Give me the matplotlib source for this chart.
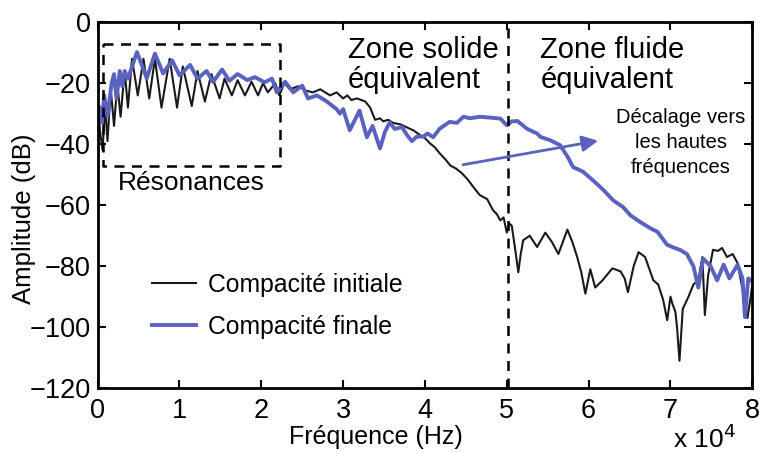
import numpy as np
import matplotlib
matplotlib.use("Agg")
import matplotlib.pyplot as plt

plt.rcParams['font.family'] = ['Liberation Sans', 'DejaVu Sans']

# frequence en 1e4 Hz, amplitude en dB
x_init = [0.00, 0.03, 0.06, 0.09, 0.12, 0.16, 0.20, 0.24, 0.28, 0.33, 0.37, 0.42, 0.49, 0.56, 0.63,
          0.70, 0.78, 0.88, 0.97, 1.04, 1.15, 1.22, 1.31, 1.39, 1.49, 1.55, 1.64, 1.71, 1.80, 1.88,
          1.96, 2.02, 2.08, 2.17, 2.22, 2.28, 2.35, 2.45, 2.55, 2.63, 2.72, 2.84, 2.92, 3.00, 3.05,
          3.10, 3.17, 3.27, 3.33, 3.39, 3.45, 3.49, 3.55, 3.61, 3.70, 3.78, 3.86, 3.94, 4.00, 4.06,
          4.12, 4.18, 4.25, 4.31, 4.38, 4.45, 4.52, 4.59, 4.67, 4.76, 4.83, 4.88, 4.92, 4.96, 5.00,
          5.03, 5.06, 5.10, 5.14, 5.17, 5.20, 5.28, 5.37, 5.47, 5.55, 5.63, 5.74, 5.80, 5.86, 5.91,
          5.96, 6.02, 6.08, 6.17, 6.29, 6.39, 6.44, 6.48, 6.55, 6.61, 6.69, 6.79, 6.85, 6.91, 6.96,
          7.00, 7.02, 7.06, 7.08, 7.11, 7.15, 7.22, 7.28, 7.34, 7.39, 7.42, 7.46, 7.52, 7.58, 7.63,
          7.69, 7.76, 7.82, 7.89, 7.94, 7.98, 8.00]
y_init = [-26, -36, -42, -27, -39, -22, -34, -20, -31, -16, -28, -12, -24, -12, -25,
          -12, -28, -12, -28, -14.5, -27.5, -16, -26, -17, -25, -18.5, -24, -19, -24, -19.5,
          -24, -20, -23, -20, -24, -20, -22, -21, -22.5, -23, -22, -24, -23, -25, -24,
          -25.5, -25, -26, -28, -32, -31.5, -32.5, -32, -33, -33.5, -34.5, -35.5, -37, -38, -39.7,
          -41, -43, -45, -47, -48, -49.5, -51.5, -54, -56.7, -58, -61.6, -63, -65, -64, -69,
          -66, -66.7, -74, -82, -76, -71.5, -70, -73.7, -69, -72, -76, -68, -72, -77, -82,
          -89, -81, -87, -84.6, -80.7, -81.7, -84, -88.5, -80, -75.4, -77, -84.6, -86, -91, -97.7,
          -90, -92, -95, -100, -111, -94, -90, -86, -84.6, -77, -96, -83, -74.6, -75, -74,
          -77, -76, -79, -89, -97, -90, -86]

x_fin = [0.02, 0.05, 0.08, 0.12, 0.17, 0.20, 0.23, 0.27, 0.30, 0.33, 0.37, 0.48, 0.60, 0.70, 0.80,
         0.91, 1.00, 1.13, 1.22, 1.33, 1.41, 1.52, 1.61, 1.71, 1.83, 1.92, 2.04, 2.13, 2.19, 2.29,
         2.39, 2.50, 2.57, 2.68, 2.80, 2.92, 2.96, 3.00, 3.08, 3.20, 3.29, 3.36, 3.45, 3.51, 3.57,
         3.63, 3.72, 3.78, 3.84, 3.90, 3.98, 4.03, 4.10, 4.18, 4.30, 4.39, 4.47, 4.55, 4.67, 4.80,
         4.92, 5.00, 5.06, 5.13, 5.25, 5.37, 5.41, 5.53, 5.65, 5.74, 5.81, 5.93, 6.06, 6.18, 6.30,
         6.42, 6.51, 6.63, 6.75, 6.84, 6.96, 7.05, 7.12, 7.20, 7.28, 7.34, 7.40, 7.49, 7.57, 7.65,
         7.72, 7.82, 7.88, 7.91, 7.95, 8.00]
y_fin = [-28, -33, -24, -31, -20, -17, -25, -16, -21, -16, -18.5, -9.8, -18.4, -10.3, -16.8,
         -12.5, -17.4, -14, -18.5, -16, -19.6, -15.5, -19.2, -17, -19, -18, -19.7, -18.5, -23, -19.5,
         -23, -20.8, -25, -24, -26, -28.5, -30, -28.5, -35.4, -29, -37.7, -34, -41.4, -36, -32.8,
         -35, -34.4, -37, -39, -37.5, -37.5, -36.5, -37.7, -34.9, -32.7, -33, -31, -31.5, -31, -31.3,
         -31.6, -33.8, -32.5, -32.4, -35, -36.5, -37.6, -38.7, -40.3, -44, -47.5, -49, -52, -55, -58.4,
         -60.6, -63.3, -65.5, -67.5, -68.7, -73, -74, -74.7, -76, -80, -87, -77.5, -80, -84.6, -79.5,
         -84, -79.5, -84, -96.7, -84, -85]

bleu = '#5a62c0'

fig, ax = plt.subplots(figsize=(7.63, 4.53), dpi=100)
fig.subplots_adjust(left=0.128, right=0.986, top=0.951, bottom=0.143)

ax.plot(x_init, y_init, color='#1a1a1a', lw=1.5, label='Compacité initiale')
ax.plot(x_fin, y_fin, color=bleu, lw=2.8, label='Compacité finale')

# zone des resonances et limite solide/fluide
ax.plot([0.06, 2.23, 2.23, 0.06, 0.06], [-7, -7, -47, -47, -7], 'k--', lw=1.8, dashes=(4, 3))
ax.axvline(5.02, color='k', ls='--', lw=1.8, dashes=(4, 3))

ax.text(0.25, -52.8, 'Résonances', fontsize=19, va='center')
ax.text(3.06, -4.4, 'Zone solide\néquivalent', fontsize=21, va='top', linespacing=1.1)
ax.text(5.41, -4.4, 'Zone fluide\néquivalent', fontsize=21, va='top', linespacing=1.1)
ax.text(7.13, -39.5, 'Décalage vers\nles hautes\nfréquences', fontsize=14.5, ha='center',
        va='center', linespacing=1.4)
ax.annotate('', xy=(6.15, -38.7), xytext=(4.43, -46.9),
            arrowprops=dict(arrowstyle='-|>', color=bleu, lw=2, mutation_scale=24))

ax.set_xlim(0, 8)
ax.set_ylim(-120, 0)
ax.set_xticks(range(0, 9))
ax.set_yticks(range(-120, 1, 20))
ax.tick_params(direction='in', top=True, right=True, labelsize=19.5, length=6, width=1.5)
ax.tick_params(axis='x', pad=7)
ax.tick_params(axis='y', pad=5)
for s in ax.spines.values():
    s.set_linewidth(2)
ax.set_xlabel('Fréquence (Hz)', fontsize=18)
ax.set_ylabel('Amplitude (dB)', fontsize=18.5)
ax.xaxis.set_label_coords(0.425, -0.134)
ax.xaxis.label.set_va('center')
ax.yaxis.set_label_coords(-0.113, 0.464)
ax.yaxis.label.set_va('center')
fig.text(0.882, 0.012, 'x 10$^4$', fontsize=19, ha='left', va='baseline')

ax.legend(loc='center left', bbox_to_anchor=(0.064, 0.225), frameon=False, fontsize=17.8,
          handlelength=1.8, handletextpad=0.45, labelspacing=0.72, borderpad=0)

plt.savefig('out.png', dpi=100)
